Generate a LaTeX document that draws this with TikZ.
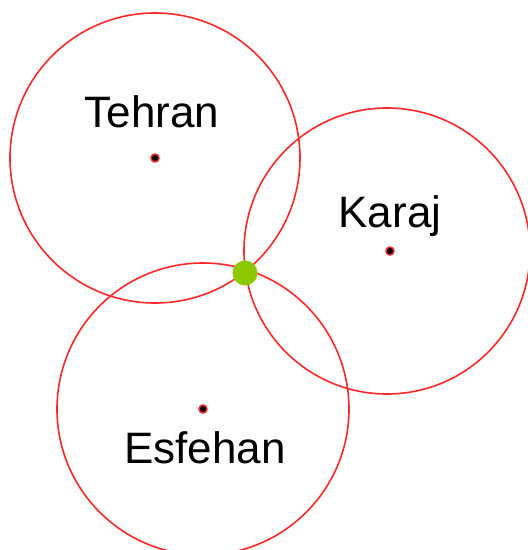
\documentclass[tikz,border=0pt]{standalone}
\usepackage{fontspec}
\setmainfont{Liberation Sans}
\definecolor{ringred}{RGB}{255,40,40}
\definecolor{fixgreen}{RGB}{140,200,0}
\begin{document}
\begin{tikzpicture}[x=1pt,y=-1pt,
  ring/.style={circle, draw=ringred, line width=1.6pt, inner sep=0pt, minimum size=290pt},
  center/.style={circle, fill=black, draw=ringred, line width=1.5pt, inner sep=0pt, minimum size=8pt},
  city/.style={anchor=base, inner sep=0pt, font=\fontsize{44}{44}\selectfont},
  fix/.style={circle, fill=fixgreen, inner sep=0pt, minimum size=25pt}]
\useasboundingbox (0,0) rectangle (528,550);
\node[ring] (tehranring) at (155,158) {};
\node[ring, minimum size=286pt] (karajring) at (387,251) {};
\node[ring, minimum size=292pt] (esfehanring) at (203,409) {};
\node[center] (tehran) at (155,158) {};
\node[center] (karaj) at (390,251) {};
\node[center] (esfehan) at (203,409) {};
\node[city] (tehranlabel) at (152,127) {Tehran};
\node[city] (karajlabel) at (390,227) {Karaj};
\node[city] (esfehanlabel) at (205,463) {Esfehan};
\node[fix] (position) at (245,273) {};
\end{tikzpicture}
\end{document}
